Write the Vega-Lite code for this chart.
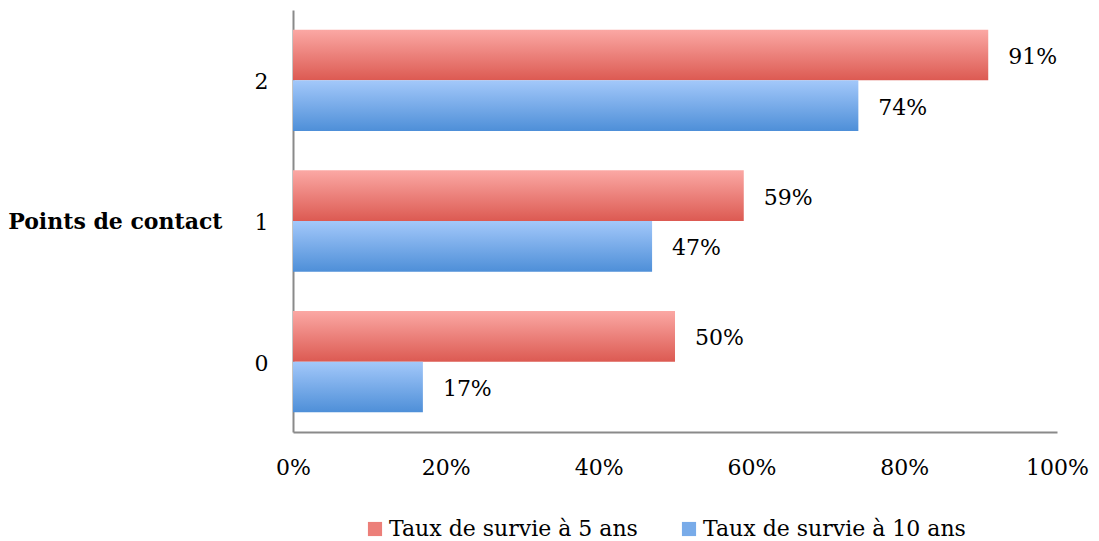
{
  "$schema": "https://vega.github.io/schema/vega-lite/v6.json",
  "autosize": {"type": "none"},
  "width": 764,
  "height": 422,
  "padding": {"left": 293, "top": 10, "right": 42, "bottom": 109},
  "background": "white",
  "config": {
    "view": {"stroke": null},
    "font": "DejaVu Serif"
  },
  "data": {
    "values": [
      {"k": "2", "serie": "Taux de survie à 5 ans", "v": 0.91},
      {"k": "2", "serie": "Taux de survie à 10 ans", "v": 0.74},
      {"k": "1", "serie": "Taux de survie à 5 ans", "v": 0.59},
      {"k": "1", "serie": "Taux de survie à 10 ans", "v": 0.47},
      {"k": "0", "serie": "Taux de survie à 5 ans", "v": 0.50},
      {"k": "0", "serie": "Taux de survie à 10 ans", "v": 0.17}
    ]
  },
  "encoding": {
    "y": {
      "field": "k", "type": "nominal",
      "scale": {"domain": ["2", "1", "0"], "paddingInner": 0.28, "paddingOuter": 0.14},
      "axis": {
        "title": "Points de contact", "titleAngle": 0, "titleFontWeight": "bold", "titleFontSize": 22,
        "titleAlign": "right", "titleBaseline": "middle", "titleX": -71, "titleY": 211,
        "labelFontSize": 22, "labelPadding": 25, "labelOffset": 2, "labelColor": "#000", "labelFontWeight": "normal",
        "ticks": false, "domainColor": "#8a8a8a", "domainWidth": 2
      }
    },
    "yOffset": {
      "field": "serie", "type": "nominal",
      "scale": {"domain": ["Taux de survie à 5 ans", "Taux de survie à 10 ans"], "paddingInner": 0, "paddingOuter": 0}
    },
    "x": {
      "field": "v", "type": "quantitative",
      "scale": {"domain": [0, 1]},
      "axis": {
        "title": null, "format": ".0%", "values": [0, 0.2, 0.4, 0.6, 0.8, 1],
        "grid": false, "ticks": false, "labelFontSize": 22, "labelPadding": 25, "labelColor": "#000",
        "labelFlush": false, "domainColor": "#8a8a8a", "domainWidth": 2
      }
    }
  },
  "layer": [
    {
      "mark": {"type": "bar"},
      "encoding": {
        "fill": {
          "condition": {
            "test": "datum.serie === 'Taux de survie à 5 ans'",
            "value": {"gradient": "linear", "x1": 0, "y1": 0, "x2": 0, "y2": 1,
               "stops": [{"offset": 0, "color": "#fba8a4"}, {"offset": 1, "color": "#dc5a52"}]}
          },
          "value": {"gradient": "linear", "x1": 0, "y1": 0, "x2": 0, "y2": 1,
               "stops": [{"offset": 0, "color": "#a3c8fa"}, {"offset": 1, "color": "#4e8fd8"}]}
        }
      }
    },
    {
      "mark": {"type": "bar", "opacity": 0},
      "encoding": {
        "color": {
          "field": "serie", "type": "nominal",
          "scale": {
            "domain": ["Taux de survie à 5 ans", "Taux de survie à 10 ans"],
            "range": ["#ec7f79", "#78abe9"]
          },
          "legend": {
            "title": null, "orient": "none", "legendX": 71, "legendY": 508, "direction": "horizontal",
            "symbolType": "square", "symbolSize": 200, "symbolStrokeWidth": 0, "symbolOpacity": 1,
            "labelFontSize": 22, "labelColor": "#000", "labelOffset": 3, "columnPadding": 40,
            "labelLimit": 400
          }
        }
      }
    },
    {
      "mark": {"type": "text", "align": "left", "baseline": "middle", "dx": 20, "dy": 2, "fontSize": 22, "color": "#000"},
      "encoding": {
        "text": {"field": "v", "type": "quantitative", "format": ".0%"}
      }
    }
  ]
}
